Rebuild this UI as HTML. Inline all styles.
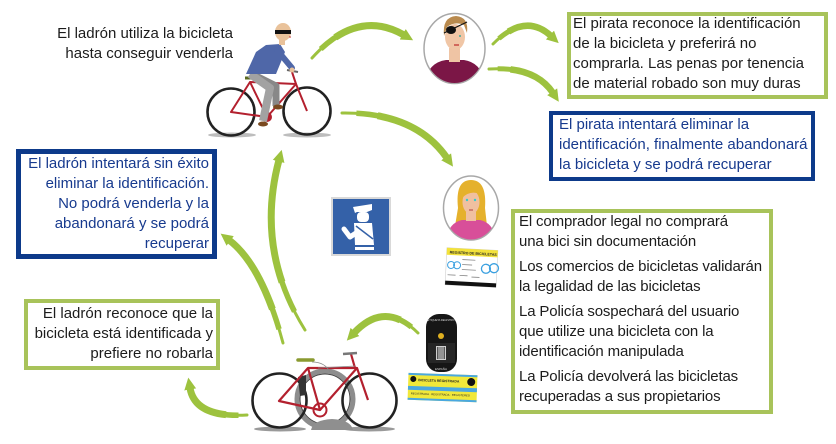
<!DOCTYPE html>
<html><head><meta charset="utf-8">
<style>
html,body{margin:0;padding:0;background:#fff;}
body{width:836px;height:444px;position:relative;overflow:hidden;font-family:"Liberation Sans",Arial,sans-serif;font-size:15px;line-height:20px;color:#1c1c1c;}
.b{position:absolute;box-sizing:border-box;}
.g{border:4px solid #a8c35a;}
.bl{border:4px solid #0d3a8a;}
.t{position:absolute;white-space:nowrap;}
.blue{color:#173a8e;}
.r{text-align:right;}
.p{margin:0 0 5px 0;}
svg{position:absolute;left:0;top:0;}
</style></head><body>
<svg width="836" height="444" viewBox="0 0 836 444">
<defs>
<marker id="ah" viewBox="0 0 14 14" markerWidth="14" markerHeight="14" refX="1.5" refY="7" orient="auto" markerUnits="userSpaceOnUse">
<path d="M0,1 L12,7 L0,13 Z" fill="#9dc23e"/>
</marker>
<clipPath id="cp1"><ellipse cx="454.5" cy="48.5" rx="30" ry="34.5"/></clipPath>
<clipPath id="cp2"><ellipse cx="471" cy="208" rx="27" ry="31.5"/></clipPath>
</defs>

<!-- ARROWS -->
<g fill="none" stroke="#9dc23e" stroke-linecap="butt">
<path d="M312,58 Q357,8 404,35" stroke-width="3" stroke-linecap="round"/>
<path d="M312,58 Q357,8 404,35" stroke-width="5.5" pathLength="100" stroke-dasharray="0 12 100"/>
<path d="M312,58 Q357,8 404,35" stroke-width="7" pathLength="100" stroke-dasharray="0 30 70 100" marker-end="url(#ah)"/>

<path d="M493,44 Q525,12 551,36" stroke-width="3" stroke-linecap="round"/>
<path d="M493,44 Q525,12 551,36" stroke-width="5" pathLength="100" stroke-dasharray="0 12 100"/>
<path d="M493,44 Q525,12 551,36" stroke-width="6.5" pathLength="100" stroke-dasharray="0 30 70 100" marker-end="url(#ah)"/>

<path d="M489,69 Q535,66 553,93" stroke-width="3" stroke-linecap="round"/>
<path d="M489,69 Q535,66 553,93" stroke-width="5" pathLength="100" stroke-dasharray="0 12 100"/>
<path d="M489,69 Q535,66 553,93" stroke-width="6.5" pathLength="100" stroke-dasharray="0 30 70 100" marker-end="url(#ah)"/>

<path d="M342,113 Q415,112 447,158" stroke-width="3" stroke-linecap="round"/>
<path d="M342,113 Q415,112 447,158" stroke-width="5.5" pathLength="100" stroke-dasharray="0 12 100"/>
<path d="M342,113 Q415,112 447,158" stroke-width="7" pathLength="100" stroke-dasharray="0 30 70 100" marker-end="url(#ah)"/>

<path d="M305,330 Q255,250 279,160" stroke-width="3" stroke-linecap="round"/>
<path d="M305,330 Q255,250 279,160" stroke-width="5.5" pathLength="100" stroke-dasharray="0 12 100"/>
<path d="M305,330 Q255,250 279,160" stroke-width="7" pathLength="100" stroke-dasharray="0 30 70 100" marker-end="url(#ah)"/>

<path d="M283,343 Q262,265 229,240" stroke-width="3" stroke-linecap="round"/>
<path d="M283,343 Q262,265 229,240" stroke-width="5.5" pathLength="100" stroke-dasharray="0 12 100"/>
<path d="M283,343 Q262,265 229,240" stroke-width="7" pathLength="100" stroke-dasharray="0 30 70 100" marker-end="url(#ah)"/>

<path d="M247,415 Q195,418 190,388" stroke-width="3" stroke-linecap="round"/>
<path d="M247,415 Q195,418 190,388" stroke-width="5.5" pathLength="100" stroke-dasharray="0 12 100"/>
<path d="M247,415 Q195,418 190,388" stroke-width="7" pathLength="100" stroke-dasharray="0 30 70 100" marker-end="url(#ah)"/>

<path d="M418,333 Q385,300 354,333" stroke-width="3" stroke-linecap="round"/>
<path d="M418,333 Q385,300 354,333" stroke-width="5.5" pathLength="100" stroke-dasharray="0 12 100"/>
<path d="M418,333 Q385,300 354,333" stroke-width="7" pathLength="100" stroke-dasharray="0 30 70 100" marker-end="url(#ah)"/>
</g>

<!-- THIEF CYCLIST -->
<ellipse cx="232" cy="135" rx="24" ry="2.5" fill="#bdbdbd"/>
<ellipse cx="307" cy="135" rx="24" ry="2.5" fill="#bdbdbd"/>
<circle cx="231" cy="112" r="23.5" fill="none" stroke="#222" stroke-width="2.6"/>
<circle cx="307" cy="111" r="23.5" fill="none" stroke="#222" stroke-width="2.6"/>
<g stroke="#b3202e" stroke-width="2" fill="none" stroke-linejoin="round">
<path d="M231,112 L267,117 L250,82 Z"/>
<path d="M250,82 L296,84 L267,117"/>
<path d="M296,84 L307,111"/>
<path d="M296,84 L292,72"/>
</g>
<circle cx="267" cy="117" r="5" fill="#b3202e"/>
<path d="M287,70 L298,72" stroke="#666" stroke-width="2"/>
<path d="M245,78 L256,78" stroke="#5a6a20" stroke-width="3"/>
<!-- legs -->
<path d="M254,75 L276,86 L276,106" stroke="#888" stroke-width="7" fill="none" stroke-linejoin="round"/>
<path d="M250,74 L270,88 L263,121" stroke="#a2a2a2" stroke-width="8" fill="none" stroke-linejoin="round"/>
<ellipse cx="263" cy="124" rx="5" ry="2.5" fill="#7a4a20"/>
<ellipse cx="278" cy="107" rx="5" ry="2.5" fill="#7a4a20"/>
<!-- torso -->
<path d="M246,74 L256,52 L266,45 L280,44 L285,52 L276,74 Z" fill="#4f67a8"/>
<path d="M277,50 L292,68" stroke="#4f67a8" stroke-width="6" stroke-linecap="round"/>
<circle cx="292" cy="70" r="2.5" fill="#e9c29a"/>
<rect x="279" y="38" width="6" height="7" fill="#e9c29a"/>
<ellipse cx="283" cy="32" rx="8" ry="9" fill="#e9c29a"/>
<rect x="275" y="30" width="16" height="4" fill="#111"/>
<path d="M289,37 L291,37" stroke="#c03030" stroke-width="1"/>

<!-- PIRATE -->
<ellipse cx="454.5" cy="48.5" rx="30.5" ry="35" fill="#fff" stroke="#a8a8a8" stroke-width="1.5"/>
<g clip-path="url(#cp1)">
<path d="M424,90 Q425,63 446,60 L464,60 Q484,63 486,90 Z" fill="#7b1646"/>
<rect x="449" y="48" width="11" height="14" fill="#efc4a4"/>
<ellipse cx="455" cy="37" rx="10" ry="13" fill="#f0c6a6"/>
<path d="M444,36 Q442,17 456,16 Q469,17 467,33 L464,25 Q455,21 447,27 Z" fill="#b98a4e"/>
<path d="M444,33 L467,22" stroke="#111" stroke-width="1.2"/>
<ellipse cx="451" cy="30" rx="5" ry="4" fill="#111"/>
<circle cx="460" cy="36" r="1" fill="#4a9"/>
<path d="M454,45 L459,45" stroke="#c03030" stroke-width="1.2"/>
</g>

<!-- BLONDE -->
<ellipse cx="471" cy="208" rx="27.5" ry="32" fill="#fff" stroke="#a8a8a8" stroke-width="1.5"/>
<g clip-path="url(#cp2)">
<path d="M458,208 Q455,180 471,180 Q487,180 485,208 L487,226 L455,226 Z" fill="#e5b12c"/>
<path d="M445,245 Q447,223 462,220 L480,220 Q495,223 497,245 Z" fill="#d84f99"/>
<rect x="466" y="212" width="10" height="9" fill="#f0c0a0"/>
<ellipse cx="471" cy="202" rx="8.5" ry="12" fill="#f0c0a0"/>
<path d="M462,196 Q466,186 480,190 L480,194 Q470,190 462,198 Z" fill="#e5b12c"/>
<circle cx="467" cy="200" r="1.2" fill="#3cc"/>
<circle cx="475" cy="200" r="1.2" fill="#3cc"/>
<path d="M469,210 L473,210" stroke="#b04040" stroke-width="1"/>
</g>

<!-- REGISTRATION CARD -->
<g transform="rotate(3 471 267)">
<rect x="446" y="249" width="51" height="37" fill="#fff" stroke="#d0d0d0" stroke-width="0.6"/>
<rect x="446" y="249" width="51" height="7" fill="#f3e23a"/>
<text x="449" y="254.5" font-family="Liberation Sans, sans-serif" font-size="3.6" font-weight="bold" fill="#222">REGISTRO DE BICICLETAS</text>
<circle cx="451" cy="266" r="3.5" stroke="#3aa0e0" fill="none" stroke-width="1"/>
<circle cx="457" cy="266" r="3.5" stroke="#3aa0e0" fill="none" stroke-width="1"/>
<circle cx="486" cy="268" r="4.5" stroke="#3aa0e0" fill="none" stroke-width="1.3"/>
<circle cx="494" cy="267" r="4.5" stroke="#3aa0e0" fill="none" stroke-width="1.3"/>
<path d="M462,260 L475,260 M462,265 L472,265 M462,270 L476,270 M448,276 L456,276 M460,276 L468,276 M472,277 L480,277" stroke="#888" stroke-width="0.8"/>
<rect x="446" y="282" width="51" height="4" fill="#111"/>
</g>

<!-- BLACK TAG -->
<rect x="426" y="314" width="31" height="58" rx="13" fill="#161616"/>
<rect x="428" y="343" width="27" height="20" fill="#262626"/>
<text x="441" y="321" font-family="Liberation Sans, sans-serif" font-size="2.6" fill="#ddd" text-anchor="middle">ETIQUETA REGISTRO</text>
<circle cx="441" cy="336" r="3" fill="#e0b020"/>
<rect x="436" y="346" width="10" height="14" fill="#cfcfcf"/>
<path d="M437.5,347 V359 M439,347 V359 M441,347 V359 M443,347 V359 M444.5,347 V359" stroke="#222" stroke-width="0.7"/>
<text x="441" y="370" font-family="Liberation Sans, sans-serif" font-size="3" fill="#ddd" text-anchor="middle">ESPAÑA</text>

<!-- YELLOW STICKER -->
<g transform="rotate(2 442 388)">
<rect x="408" y="374" width="69" height="27" fill="#f1e83a"/>
<rect x="408" y="374" width="69" height="2" fill="#4aa8e0"/>
<rect x="408" y="387" width="69" height="4" fill="#4aa8e0"/>
<rect x="408" y="399" width="69" height="2" fill="#4aa8e0"/>
<circle cx="413" cy="380" r="3" fill="#111"/>
<circle cx="471" cy="381" r="4" fill="#111"/>
<text x="418" y="382" font-family="Liberation Sans, sans-serif" font-size="3.4" font-weight="bold" fill="#222">BICICLETA REGISTRADA</text>
<text x="411" y="395.5" font-family="Liberation Sans, sans-serif" font-size="2.8" fill="#222">REGISTRADA · REGISTRADA · REGISTERED</text>
</g>

<!-- POLICE SIGN -->
<rect x="331" y="197" width="60" height="59" fill="#d9d9d9"/>
<rect x="333" y="199" width="56" height="55" fill="#3461a8"/>
<g fill="#fff">
<path d="M353,207 L372,204 L372,210 L367,212 L357,212 L355,213 Z"/>
<rect x="357" y="212" width="12" height="10" rx="4"/>
<path d="M354,223 L372,223 L374,245 L355,245 Z"/>
<rect x="355" y="247" width="19" height="3"/>
</g>
<path d="M344,229 L350,237 L362,229" stroke="#fff" stroke-width="5" fill="none" stroke-linecap="round" stroke-linejoin="round"/>
<path d="M356,226 L373,239" stroke="#3461a8" stroke-width="1.5"/>

<!-- BOTTOM BIKES -->
<ellipse cx="280" cy="429" rx="26" ry="2.5" fill="#9a9a9a"/>
<ellipse cx="369" cy="429" rx="26" ry="2.5" fill="#9a9a9a"/>
<circle cx="325" cy="399" r="28" fill="none" stroke="#8d8d8d" stroke-width="5"/>
<circle cx="325" cy="399" r="25" fill="none" stroke="#444" stroke-width="1"/>
<path d="M311,430 Q313,420 332,419 Q351,420 353,430 Z" fill="#8f8f8f"/>
<circle cx="279.5" cy="400.5" r="27" fill="none" stroke="#222" stroke-width="2.6"/>
<circle cx="369.5" cy="400.5" r="27" fill="none" stroke="#222" stroke-width="2.6"/>
<path d="M298,377 L306,375 L306,395 L300,396 Z" fill="#333"/>
<g stroke="#b3202e" stroke-width="2.2" fill="none" stroke-linejoin="round">
<path d="M279,401 L320,410 L308,368 Z"/>
<path d="M308,368 L357,368 L320,410"/>
<path d="M357,368 L368,400"/>
<path d="M355,368 L351,354"/>
</g>
<circle cx="320" cy="410" r="6.5" fill="none" stroke="#b3202e" stroke-width="2"/>
<path d="M343,354 L357,353" stroke="#777" stroke-width="2.5"/>
<path d="M298,360 L313,360" stroke="#8a9a30" stroke-width="3.5" stroke-linecap="round"/>
<path d="M312,362 Q325,362 330,372 M318,368 L355,366" stroke="#888" stroke-width="0.8" fill="none"/>
</svg>

<div class="b g" style="left:567px;top:12px;width:261px;height:87px"></div>
<div class="b bl" style="left:549px;top:111px;width:266px;height:70px"></div>
<div class="b bl" style="left:16px;top:149px;width:201px;height:110px;border-width:5px"></div>
<div class="b g" style="left:24px;top:299px;width:196px;height:71px"></div>
<div class="b g" style="left:511px;top:209px;width:262px;height:205px"></div>

<div class="t r" style="right:603px;top:24px">El ladrón utiliza la bicicleta<br>hasta conseguir venderla</div>
<div class="t" style="left:573px;top:14px">El pirata reconoce la identificación<br>de la bicicleta y preferirá no<br>comprarla. Las penas por tenencia<br>de material robado son muy duras</div>
<div class="t blue" style="left:559px;top:115px">El pirata intentará eliminar la<br>identificación, finalmente abandonará<br>la bicicleta y se podrá recuperar</div>
<div class="t r blue" style="right:627px;top:154px">El ladrón intentará sin éxito<br>eliminar la identificación.<br>No podrá venderla y la<br>abandonará y se podrá<br>recuperar</div>
<div class="t r" style="right:623px;top:304px">El ladrón reconoce que la<br>bicicleta está identificada y<br>prefiere no robarla</div>
<div class="t" style="left:519px;top:212px;letter-spacing:-0.15px">
<div class="p">El comprador legal no comprará<br>una bici sin documentación</div>
<div class="p">Los comercios de bicicletas validarán<br>la legalidad de las bicicletas</div>
<div class="p">La Policía sospechará del usuario<br>que utilize una bicicleta con la<br>identificación manipulada</div>
<div class="p">La Policía devolverá las bicicletas<br>recuperadas a sus propietarios</div>
</div>
</body></html>
